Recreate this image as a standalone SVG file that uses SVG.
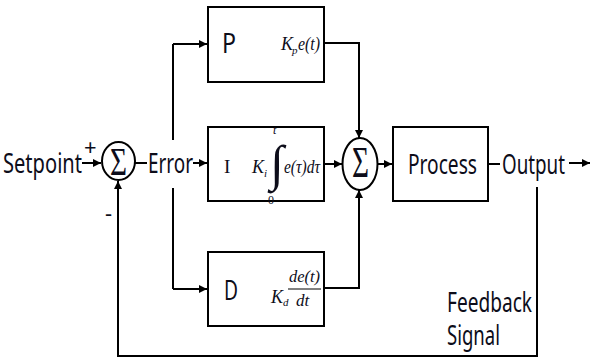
<svg xmlns="http://www.w3.org/2000/svg" width="591" height="358" viewBox="0 0 591 358">
<defs>
<marker id="ah" viewBox="0 0 10 10" refX="10" refY="5" markerWidth="9" markerHeight="8" markerUnits="userSpaceOnUse" orient="auto">
<path d="M0,0 L10,5 L0,10 z" fill="#000"/>
</marker>
<style>
.ln{fill:none;stroke:#000;stroke-width:2}
.ar{fill:none;stroke:#000;stroke-width:2;marker-end:url(#ah)}
.box{fill:#fff;stroke:#000;stroke-width:2}
.t{font-family:"Noto Sans","Open Sans",sans-serif;font-size:28px;fill:#0d0d1a}
.m{font-family:"Liberation Serif",serif;font-style:italic;fill:#0d0d1a}
.s{font-family:"Liberation Serif",serif;fill:#0d0d1a}
</style>
</defs>
<rect width="591" height="358" fill="#fff"/>
<g id="connectors">
<line class="ar" x1="82" y1="163" x2="101" y2="163"/>
<line class="ln" x1="135" y1="163" x2="147" y2="163"/>
<line class="ar" x1="193" y1="163" x2="207" y2="163"/>
<line class="ln" x1="173" y1="44" x2="173" y2="140"/>
<line class="ln" x1="173" y1="188" x2="173" y2="289"/>
<polyline class="ar" points="173,44 207,44"/>
<polyline class="ar" points="173,289 207,289"/>
<polyline class="ar" points="324,43 359,43 359,138"/>
<line class="ar" x1="324" y1="164" x2="342" y2="164"/>
<polyline class="ar" points="324,288 359,288 359,190"/>
<line class="ar" x1="378" y1="164" x2="392" y2="164"/>
<line class="ln" x1="488" y1="164" x2="500" y2="164"/>
<line class="ar" x1="569" y1="163" x2="590" y2="163"/>
<polyline class="ar" points="537,187 537,356 118,356 118,181"/>
</g>
<g id="sum1">
<ellipse cx="118.5" cy="161" rx="16.5" ry="19" class="box"/>
<text class="s" x="110" y="175" font-size="40" textLength="17" lengthAdjust="spacingAndGlyphs">Σ</text>
</g>
<g id="sum2">
<ellipse cx="360" cy="164" rx="17.5" ry="26" class="box"/>
<text class="s" x="352" y="177" font-size="44" textLength="17" lengthAdjust="spacingAndGlyphs">Σ</text>
</g>
<g id="setpoint">
<text class="t" x="3" y="173" textLength="79" lengthAdjust="spacingAndGlyphs">Setpoint</text>
<text class="t" x="84" y="155" style="font-size:22px">+</text>
<text class="t" x="105" y="221" style="font-size:22px">-</text>
</g>
<g id="error">
<text class="t" x="148" y="173" textLength="45" lengthAdjust="spacingAndGlyphs">Error</text>
</g>
<g id="P">
<rect class="box" x="208" y="7" width="116" height="75"/>
<text class="t" x="222" y="53" textLength="14" lengthAdjust="spacingAndGlyphs">P</text>
<text class="m" x="281" y="50" font-size="18">K</text>
<text class="m" x="292" y="54" font-size="11">p</text>
<text class="m" x="298" y="50" font-size="18" textLength="22" lengthAdjust="spacingAndGlyphs">e(t)</text>
</g>
<g id="I">
<rect class="box" x="208" y="127" width="116" height="74"/>
<text class="s" x="224" y="173" font-size="19">I</text>
<text class="m" x="252" y="173" font-size="18">K</text>
<text class="m" x="264" y="177" font-size="11">i</text>
<text class="s" x="270" y="180" font-size="50">∫</text>
<text class="m" x="273" y="134" font-size="12">t</text>
<text class="s" x="268" y="204" font-size="12">0</text>
<text class="m" x="284" y="173" font-size="18" textLength="36" lengthAdjust="spacingAndGlyphs">e(τ)dτ</text>
</g>
<g id="D">
<rect class="box" x="208" y="252" width="116" height="74"/>
<text class="t" x="224" y="300" textLength="14" lengthAdjust="spacingAndGlyphs">D</text>
<text class="m" x="271" y="303" font-size="18">K</text>
<text class="m" x="283" y="306" font-size="11">d</text>
<text class="m" x="289" y="282" font-size="17" textLength="31" lengthAdjust="spacingAndGlyphs">de(t)</text>
<line x1="288" y1="289" x2="321" y2="289" stroke="#000" stroke-width="1"/>
<text class="m" x="296" y="306" font-size="17">dt</text>
</g>
<g id="process">
<rect class="box" x="393" y="127" width="95" height="74"/>
<text class="t" x="408" y="174" textLength="69" lengthAdjust="spacingAndGlyphs">Process</text>
</g>
<g id="output">
<text class="t" x="502" y="174" textLength="63" lengthAdjust="spacingAndGlyphs">Output</text>
</g>
<g id="feedback">
<text class="t" x="447" y="312" textLength="85" lengthAdjust="spacingAndGlyphs">Feedback</text>
<text class="t" x="447" y="345" textLength="53" lengthAdjust="spacingAndGlyphs">Signal</text>
</g>
</svg>
